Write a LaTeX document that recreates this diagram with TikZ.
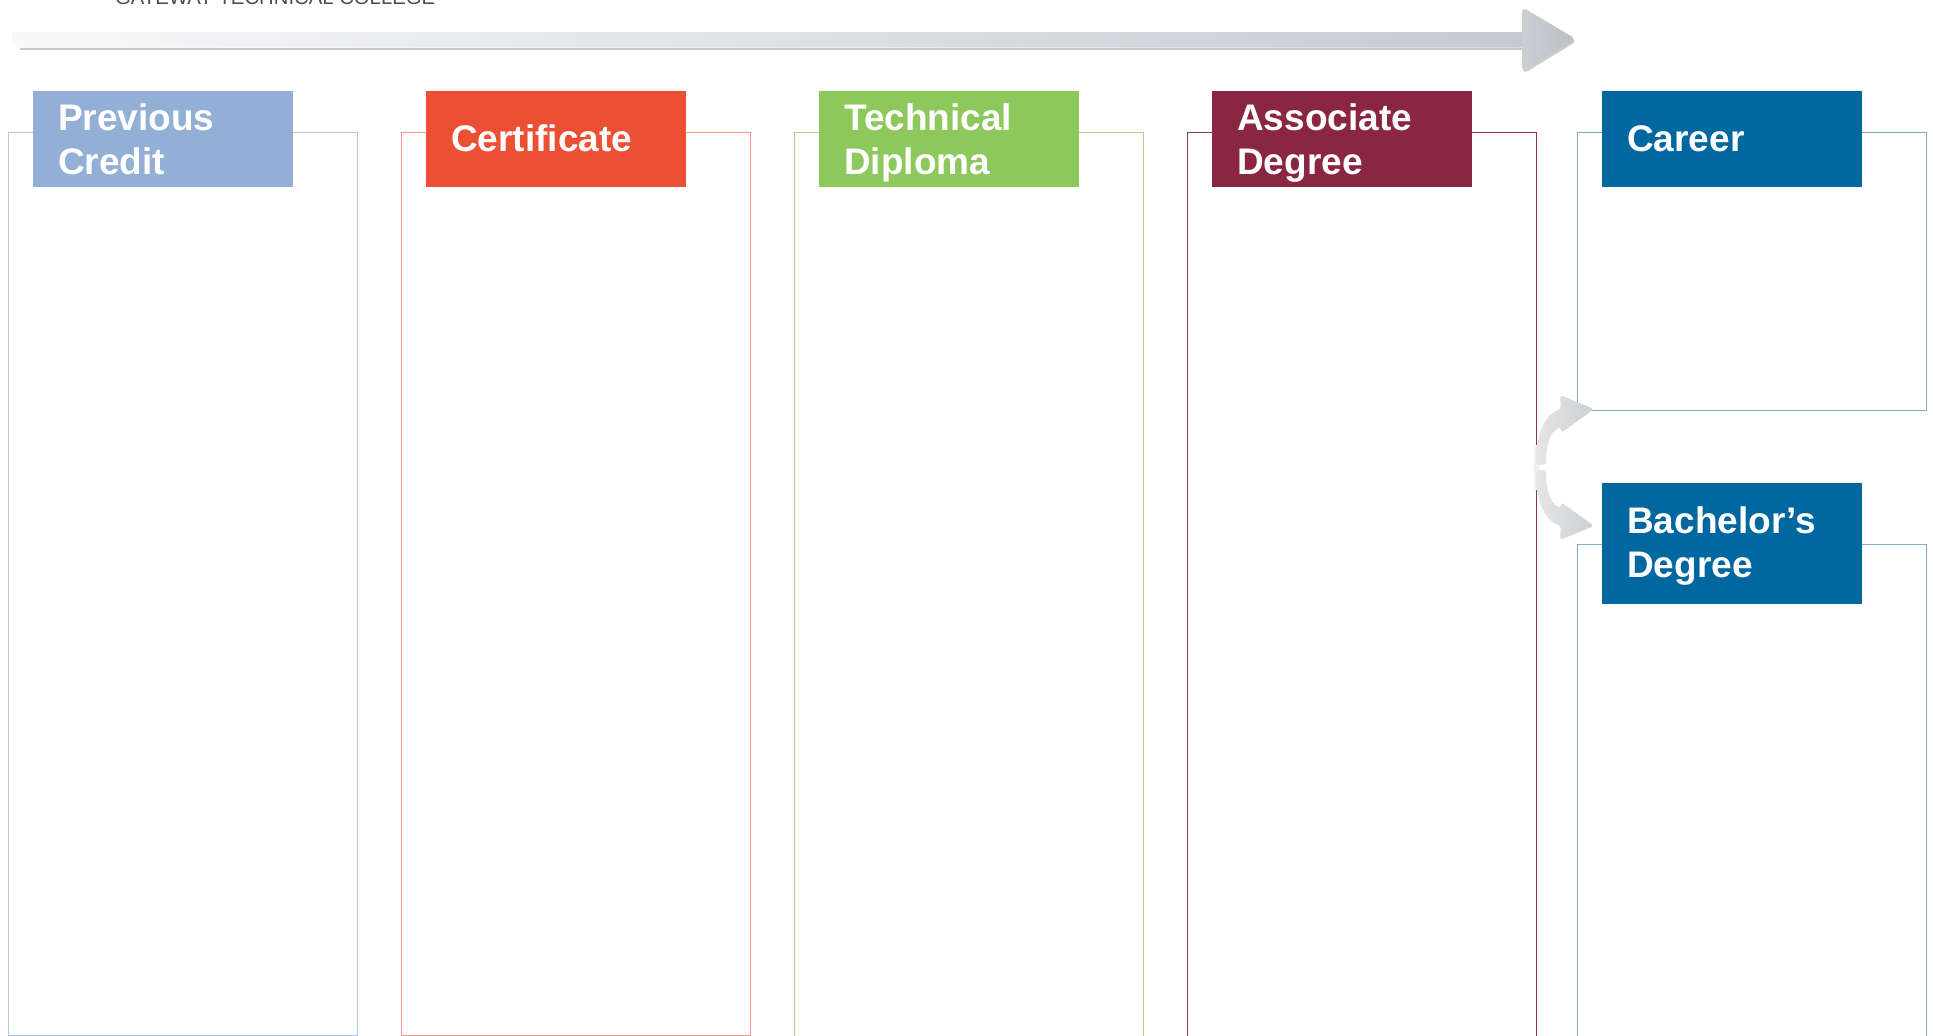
\documentclass[tikz,border=0pt]{standalone}
\usepackage{fontspec}
\setmainfont{Liberation Sans}
\definecolor{pcfill}{HTML}{93AFD6}
\definecolor{pcline}{HTML}{B3C6E5}
\definecolor{cefill}{HTML}{EC5034}
\definecolor{celine}{HTML}{F29B8B}
\definecolor{tdfill}{HTML}{8DC85C}
\definecolor{tdline}{HTML}{A9D785}
\definecolor{adfill}{HTML}{8A2642}
\definecolor{adline}{HTML}{8E3050}
\definecolor{cafill}{HTML}{00679F}
\definecolor{caline}{HTML}{82ACCF}
\definecolor{arrL}{HTML}{F9F9FA}
\definecolor{arrR}{HTML}{C6CACF}
\definecolor{headL}{HTML}{CBCFD3}
\definecolor{headR}{HTML}{BBBFC4}
\begin{document}
\begin{tikzpicture}[x=1pt,y=-1pt,
  colbox/.style={draw, line width=1.3pt, anchor=north west, minimum width=349pt, inner sep=0pt},
  header/.style={anchor=north west, minimum width=260pt, minimum height=96pt, inner sep=0pt},
  htext/.style={anchor=base west, inner sep=0pt, align=left, text=white,
     font=\fontsize{37}{44}\selectfont\bfseries}
]
\useasboundingbox (0,0) rectangle (1933,1036);
% title (cut off at top, as in the reference)
\node[anchor=base west, inner sep=0pt, text=black!70, font=\fontsize{20.3}{22}\selectfont] (title) at (115,5) {GATEWAY TECHNICAL COLLEGE};
% top arrow
\draw[black!22, line width=2pt] (20,48.5) -- (1524,48.5);
\shade[left color=arrL, right color=arrR] (12,32) -- (1526,32) -- (1526,47.5) [rounded corners=7pt] -- (12,47.5) [sharp corners] -- cycle;
\fill[black!20, rounded corners=5pt] (1523,9) -- (1577,41) -- (1523,74) -- cycle;
\shade[left color=headL, right color=headR, rounded corners=5pt] (1522,7) -- (1576,39) -- (1522,72) -- cycle;
% column boxes
\node[colbox, draw=pcline, minimum height=903pt] (c1) at (8,132) {};
\node[colbox, draw=celine, minimum height=903pt] (c2) at (401,132) {};
\node[colbox, draw=tdline, minimum height=910pt] (c3) at (794,132) {};
\node[colbox, draw=adline, minimum height=910pt] (c4) at (1187,132) {};
\node[colbox, draw=caline, minimum height=278pt] (c5) at (1577,132) {};
\node[colbox, draw=caline, minimum height=500pt] (c6) at (1577,543.5) {};
% headers
\node[header, fill=pcfill] (h1) at (33,91) {};
\node[header, fill=cefill] (h2) at (426,91) {};
\node[header, fill=tdfill] (h3) at (819,91) {};
\node[header, fill=adfill] (h4) at (1212,91) {};
\node[header, fill=cafill] (h5) at (1602,91) {};
\node[header, fill=cafill, minimum height=121pt] (h6) at (1602,483) {};
% (anchor base of a two-line node is the baseline of its last line)
\node[htext] (t1) at (58,174) {Previous\\Credit};
\node[htext] (t2) at (451,151) {Certificate};
\node[htext] (t3) at (844,174) {Technical\\Diploma};
\node[htext] (t4) at (1237,174) {Associate\\Degree};
\node[htext] (t5) at (1627,151) {Career};
\node[htext] (t6) at (1627,577) {Bachelor’s\\Degree};
% curved arrows
\fill[black!6] (1535,445) .. controls (1533,460) and (1533,475) .. (1535,490) -- (1541,490) .. controls (1539,475) and (1539,460) .. (1541,445) -- cycle;
\shade[left color=black!10, right color=headL, rounded corners=3pt]
  (1536,465) .. controls (1536,432) and (1546,414) .. (1561,409)
  -- (1560,395) -- (1594,409) -- (1561,433) -- (1561,427)
  .. controls (1550,432) and (1546,445) .. (1546,465) -- cycle;
\shade[left color=black!10, right color=headL, rounded corners=3pt]
  (1536,470) .. controls (1536,503) and (1546,521) .. (1561,526)
  -- (1560,540) -- (1594,526) -- (1561,502) -- (1561,508)
  .. controls (1550,503) and (1546,490) .. (1546,470) -- cycle;
\end{tikzpicture}
\end{document}
